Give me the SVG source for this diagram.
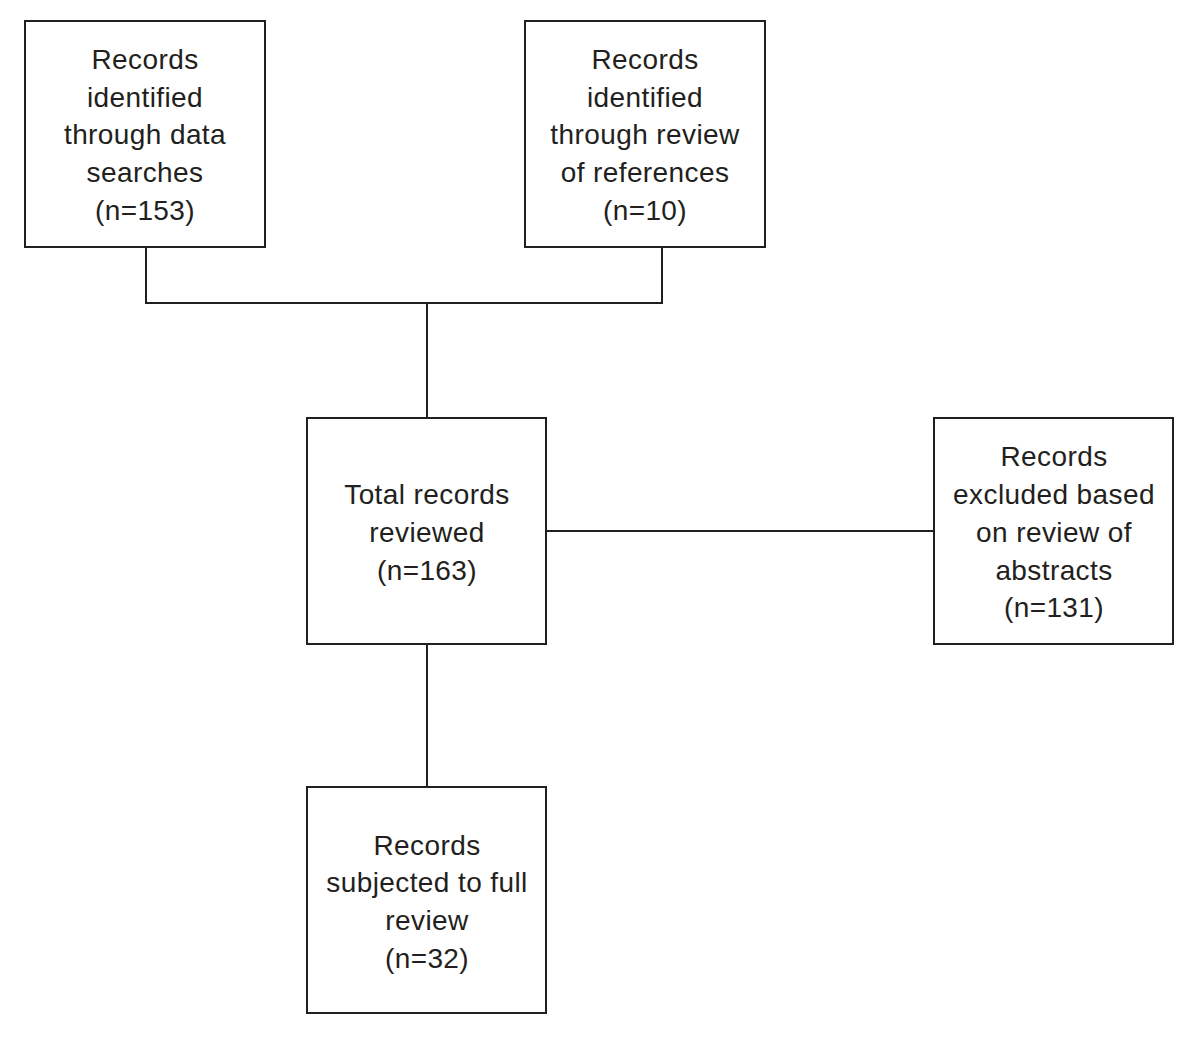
<svg xmlns="http://www.w3.org/2000/svg" width="1200" height="1038" viewBox="0 0 1200 1038">
<style>
.box{fill:#fff;stroke:#231f20;stroke-width:2}
.ln{fill:none;stroke:#231f20;stroke-width:2}
text{font-family:"Liberation Sans",Arial,sans-serif;font-size:28px;letter-spacing:0.4px;fill:#231f20;text-anchor:middle}
</style>
<rect width="1200" height="1038" fill="#fff"/>
<g id="connectors">
<polyline class="ln" points="146,247 146,303 662,303 662,247"/>
<line class="ln" x1="427" y1="303" x2="427" y2="418"/>
<line class="ln" x1="546" y1="531" x2="934" y2="531"/>
<line class="ln" x1="427" y1="644" x2="427" y2="787"/>
</g>
<g id="n1">
<rect class="box" x="25" y="21" width="240" height="226"/>
<text x="145" y="69">Records</text>
<text x="145" y="107">identified</text>
<text x="145" y="144">through data</text>
<text x="145" y="182">searches</text>
<text x="145" y="220">(n=153)</text>
</g>
<g id="n2">
<rect class="box" x="525" y="21" width="240" height="226"/>
<text x="645" y="69">Records</text>
<text x="645" y="107">identified</text>
<text x="645" y="144">through review</text>
<text x="645" y="182">of references</text>
<text x="645" y="220">(n=10)</text>
</g>
<g id="n3">
<rect class="box" x="307" y="418" width="239" height="226"/>
<text x="427" y="504">Total records</text>
<text x="427" y="542">reviewed</text>
<text x="427" y="580">(n=163)</text>
</g>
<g id="n4">
<rect class="box" x="934" y="418" width="239" height="226"/>
<text x="1054" y="466">Records</text>
<text x="1054" y="504">excluded based</text>
<text x="1054" y="542">on review of</text>
<text x="1054" y="580">abstracts</text>
<text x="1054" y="617">(n=131)</text>
</g>
<g id="n5">
<rect class="box" x="307" y="787" width="239" height="226"/>
<text x="427" y="855">Records</text>
<text x="427" y="892">subjected to full</text>
<text x="427" y="930">review</text>
<text x="427" y="968">(n=32)</text>
</g>
</svg>
